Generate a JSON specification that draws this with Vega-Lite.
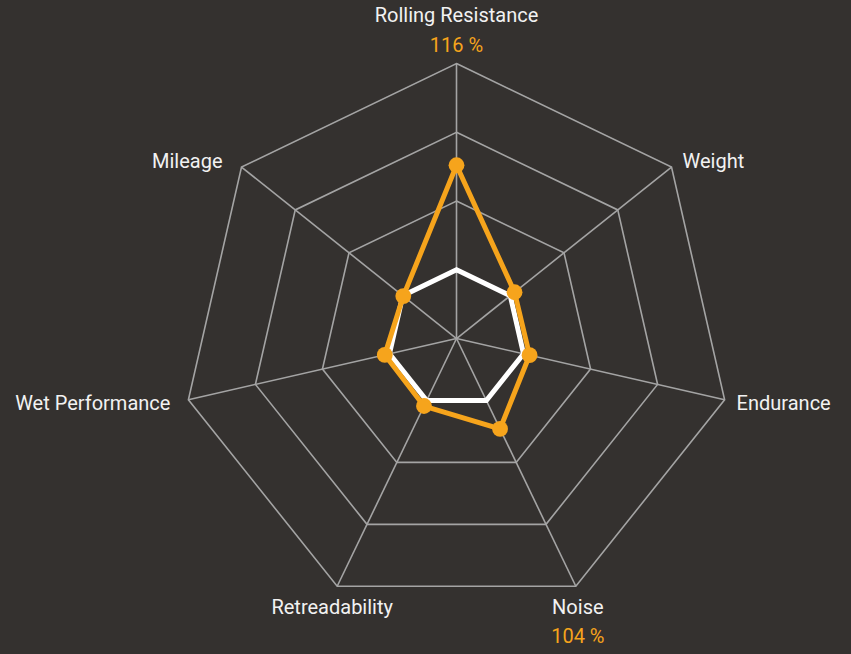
{
  "$schema": "https://vega.github.io/schema/vega-lite/v6.json",
  "width": 851,
  "height": 654,
  "autosize": {"type": "fit", "contains": "padding"},
  "padding": 0,
  "background": "#34312f",
  "config": {"view": {"stroke": null}, "text": {"font": "Roboto", "fontSize": 20, "baseline": "middle"}},
  "datasets": {
    "grid": [
      {"ring": 1, "idx": [0, 1, 2, 3, 4, 5, 6]},
      {"ring": 2, "idx": [0, 1, 2, 3, 4, 5, 6]},
      {"ring": 3, "idx": [0, 1, 2, 3, 4, 5, 6]},
      {"ring": 4, "idx": [0, 1, 2, 3, 4, 5, 6]}
    ],
    "axes": [
      {"axis": "Rolling Resistance", "idx": 0, "max": 4, "pct": "116 %"},
      {"axis": "Weight", "idx": 1, "max": 4, "pct": ""},
      {"axis": "Endurance", "idx": 2, "max": 4, "pct": ""},
      {"axis": "Noise", "idx": 3, "max": 4, "pct": "104 %"},
      {"axis": "Retreadability", "idx": 4, "max": 4, "pct": ""},
      {"axis": "Wet Performance", "idx": 5, "max": 4, "pct": ""},
      {"axis": "Mileage", "idx": 6, "max": 4, "pct": ""}
    ],
    "scores": [
      {"series": "Reference", "axis": "Rolling Resistance", "idx": 0, "value": 1.0},
      {"series": "Reference", "axis": "Weight", "idx": 1, "value": 1.0},
      {"series": "Reference", "axis": "Endurance", "idx": 2, "value": 1.0},
      {"series": "Reference", "axis": "Noise", "idx": 3, "value": 1.0},
      {"series": "Reference", "axis": "Retreadability", "idx": 4, "value": 1.0},
      {"series": "Reference", "axis": "Wet Performance", "idx": 5, "value": 1.0},
      {"series": "Reference", "axis": "Mileage", "idx": 6, "value": 1.0},
      {"series": "Tyre", "axis": "Rolling Resistance", "idx": 0, "value": 2.52},
      {"series": "Tyre", "axis": "Weight", "idx": 1, "value": 1.08},
      {"series": "Tyre", "axis": "Endurance", "idx": 2, "value": 1.09},
      {"series": "Tyre", "axis": "Noise", "idx": 3, "value": 1.46},
      {"series": "Tyre", "axis": "Retreadability", "idx": 4, "value": 1.09},
      {"series": "Tyre", "axis": "Wet Performance", "idx": 5, "value": 1.07},
      {"series": "Tyre", "axis": "Mileage", "idx": 6, "value": 0.99}
    ]
  },
  "encoding": {
    "x": {"field": "x", "type": "quantitative", "scale": {"domain": [-6.64, 5.738], "nice": false, "zero": false}, "axis": null},
    "y": {"field": "y", "type": "quantitative", "scale": {"domain": [-4.589, 4.924], "nice": false, "zero": false}, "axis": null}
  },
  "layer": [
    {
      "data": {"name": "grid"},
      "transform": [
        {"flatten": ["idx"]},
        {"calculate": "datum.ring * sin(datum.idx * 2 * PI / 7)", "as": "x"},
        {"calculate": "datum.ring * cos(datum.idx * 2 * PI / 7)", "as": "y"}
      ],
      "mark": {"type": "line", "interpolate": "linear-closed", "color": "#a4a4a4", "strokeWidth": 1.6},
      "encoding": {"detail": {"field": "ring", "type": "nominal"}, "order": {"field": "idx", "type": "quantitative"}}
    },
    {
      "data": {"name": "axes"},
      "transform": [
        {"calculate": "datum.max * sin(datum.idx * 2 * PI / 7)", "as": "x"},
        {"calculate": "datum.max * cos(datum.idx * 2 * PI / 7)", "as": "y"}
      ],
      "mark": {"type": "rule", "color": "#a4a4a4", "strokeWidth": 1.6},
      "encoding": {"x2": {"datum": 0}, "y2": {"datum": 0}}
    },
    {
      "data": {"name": "scores"},
      "transform": [
        {"filter": "datum.series == 'Reference'"},
        {"calculate": "datum.value * sin(datum.idx * 2 * PI / 7)", "as": "x"},
        {"calculate": "datum.value * cos(datum.idx * 2 * PI / 7)", "as": "y"}
      ],
      "mark": {"type": "line", "interpolate": "linear-closed", "color": "#ffffff", "strokeWidth": 5},
      "encoding": {"order": {"field": "idx", "type": "quantitative"}}
    },
    {
      "data": {"name": "scores"},
      "transform": [
        {"filter": "datum.series == 'Tyre'"},
        {"calculate": "datum.value * sin(datum.idx * 2 * PI / 7)", "as": "x"},
        {"calculate": "datum.value * cos(datum.idx * 2 * PI / 7)", "as": "y"}
      ],
      "mark": {"type": "line", "interpolate": "linear-closed", "color": "#f6a41c", "strokeWidth": 5},
      "encoding": {"order": {"field": "idx", "type": "quantitative"}}
    },
    {
      "data": {"name": "scores"},
      "transform": [
        {"filter": "datum.series == 'Tyre'"},
        {"calculate": "datum.value * sin(datum.idx * 2 * PI / 7)", "as": "x"},
        {"calculate": "datum.value * cos(datum.idx * 2 * PI / 7)", "as": "y"}
      ],
      "mark": {"type": "circle", "color": "#f6a41c", "opacity": 1, "size": 250}
    },
    {
      "data": {"name": "axes"},
      "transform": [
        {"calculate": "datum.max * sin(datum.idx * 2 * PI / 7)", "as": "x"},
        {"calculate": "datum.max * cos(datum.idx * 2 * PI / 7)", "as": "y"}
      ],
      "layer": [
        {"transform": [{"filter": "datum.idx == 0"}], "mark": {"type": "text", "align": "center", "dy": -47.5, "color": "#f2f2f2"}, "encoding": {"text": {"field": "axis"}}},
        {"transform": [{"filter": "datum.idx == 0"}], "mark": {"type": "text", "align": "center", "dy": -17.5, "color": "#f6a41c"}, "encoding": {"text": {"field": "pct"}}},
        {"transform": [{"filter": "datum.idx == 1"}], "mark": {"type": "text", "align": "left", "dx": 11, "dy": -5, "color": "#f2f2f2"}, "encoding": {"text": {"field": "axis"}}},
        {"transform": [{"filter": "datum.idx == 2"}], "mark": {"type": "text", "align": "left", "dx": 12, "dy": 4, "color": "#f2f2f2"}, "encoding": {"text": {"field": "axis"}}},
        {"transform": [{"filter": "datum.idx == 3"}], "mark": {"type": "text", "align": "center", "dx": 2, "dy": 22, "color": "#f2f2f2"}, "encoding": {"text": {"field": "axis"}}},
        {"transform": [{"filter": "datum.idx == 3"}], "mark": {"type": "text", "align": "center", "dx": 2, "dy": 51, "color": "#f6a41c"}, "encoding": {"text": {"field": "pct"}}},
        {"transform": [{"filter": "datum.idx == 4"}], "mark": {"type": "text", "align": "center", "dx": -5, "dy": 22, "color": "#f2f2f2"}, "encoding": {"text": {"field": "axis"}}},
        {"transform": [{"filter": "datum.idx == 5"}], "mark": {"type": "text", "align": "right", "dx": -18, "dy": 4, "color": "#f2f2f2"}, "encoding": {"text": {"field": "axis"}}},
        {"transform": [{"filter": "datum.idx == 6"}], "mark": {"type": "text", "align": "right", "dx": -19, "dy": -5, "color": "#f2f2f2"}, "encoding": {"text": {"field": "axis"}}}
      ]
    }
  ]
}
